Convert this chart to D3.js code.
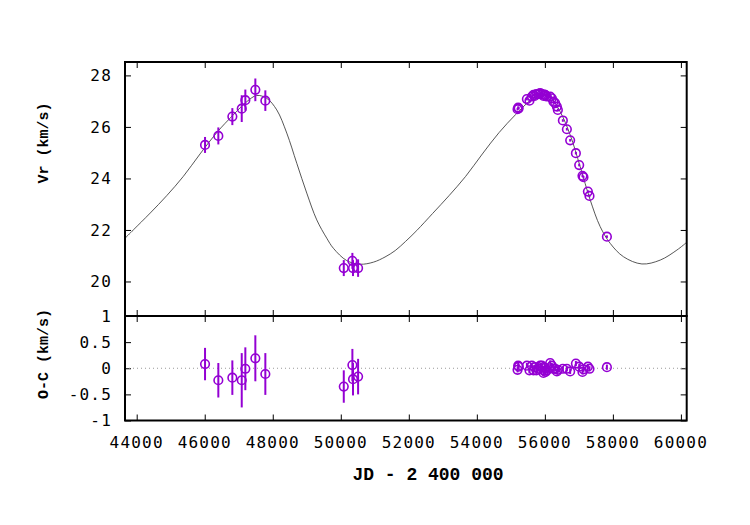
<!DOCTYPE html>
<html>
<head>
<meta charset="utf-8">
<script src="https://cdn.jsdelivr.net/npm/d3@7"></script>
<style>
  body { margin: 0; background: #fff; }
  .tick-label { font-family: "DejaVu Sans Mono", monospace; font-size: 16px; letter-spacing: 1.2px; fill: #000; }
  .axis-title { font-family: "Liberation Mono", "Courier New", monospace; font-weight: bold; fill: #000; }
</style>
</head>
<body>
<svg id="chart" width="750" height="525"></svg>
<script>
// observations: JD - 2400000, radial velocity, error, residual O-C
const jd    = [46009, 46400, 46812, 47088, 47194, 47488, 47782,
               50088, 50341, 50360, 50509,
               55197, 55215, 55230, 55471, 55547, 55618, 55665, 55700, 55750, 55812, 55862, 55912,
               55959, 55980, 56009, 56020, 56059, 56156, 56206, 56253, 56303, 56353, 56382,
               56529, 56647, 56744, 56912, 57009, 57106, 57135, 57265, 57312, 57824];
const vr    = [25.30, 25.65, 26.40, 26.71, 27.04, 27.44, 27.02,
               20.52, 20.80, 20.52, 20.52,
               26.69, 26.75, 26.72, 27.08, 27.02, 27.18, 27.24, 27.20, 27.27, 27.28, 27.31, 27.27,
               27.20, 27.25, 27.24, 27.22, 27.18, 27.18, 27.11, 26.98, 26.92, 26.79, 26.66,
               26.25, 25.91, 25.48, 24.98, 24.52, 24.10, 24.05, 23.49, 23.32, 21.74];
const vrErr = [0.31, 0.33, 0.33, 0.52, 0.41, 0.44, 0.40,
               0.31, 0.31, 0.31, 0.34,
               0.05, 0.05, 0.05, 0.05, 0.05, 0.05, 0.05, 0.05, 0.05, 0.05, 0.05, 0.05,
               0.05, 0.05, 0.05, 0.05, 0.05, 0.05, 0.05, 0.05, 0.05, 0.05, 0.05,
               0.05, 0.05, 0.05, 0.05, 0.05, 0.05, 0.05, 0.05, 0.05, 0.05];
const oc    = [0.08, -0.23, -0.18, -0.23, -0.01, 0.19, -0.11,
               -0.35, 0.06, -0.21, -0.16,
               -0.03, 0.05, 0.03, 0.05, -0.04, 0.05, -0.04, 0.02, -0.04, -0.01, 0.05, 0.05,
               -0.09, -0.05, 0.01, -0.07, -0.04, 0.10, 0.05, -0.01, -0.01, -0.06, -0.03,
               -0.01, -0.01, -0.06, 0.09, 0.03, -0.07, -0.02, 0.03, -0.01, 0.02];

// orbit model curve
const curveJd = [43656, 43900, 44400, 44882, 45371, 45862, 46353, 46841, 47235, 47529, 47824,
                 48118, 48412, 48706, 49000, 49294, 49588, 49782, 50176, 50568, 50959, 51300,
                 51600, 51900, 52235, 52700, 53182, 53671, 54162, 54653, 55141, 55568, 55862,
                 56156, 56450, 56744, 57038, 57332, 57626, 57921, 58312, 58853, 59391, 59882, 60170];
const curveVr = [21.68, 22.00, 22.66, 23.33, 24.08, 24.95, 25.78, 26.47, 26.98, 27.22, 27.11,
                 26.66, 25.76, 24.59, 23.43, 22.39, 21.68, 21.29, 20.81, 20.67, 20.75, 20.95,
                 21.20, 21.55, 21.98, 22.64, 23.33, 24.08, 24.95, 25.78, 26.48, 27.02, 27.24,
                 27.15, 26.59, 25.69, 24.46, 23.17, 22.13, 21.48, 20.96, 20.68, 20.83, 21.22, 21.52];

const xTicks  = [44000, 46000, 48000, 50000, 52000, 54000, 56000, 58000, 60000];
const vrTicks = [20, 22, 24, 26, 28];
const ocTicks = [-1, -0.5, 0, 0.5, 1];
const ocTickText = ['-1', '-0.5', '0', '0.5', '1'];

const purple = '#9400d3';
const left = 125, right = 686.7;
const top1 = 62, bot1 = 316, bot2 = 420.5;

const svg = d3.select('#chart');

const x  = d3.scaleLinear().domain([43656, 60170]).range([left, right]);
const y1 = d3.scaleLinear().domain([18.66, 28.52]).range([bot1, top1]);
const y2 = d3.scaleLinear().domain([-1, 1]).range([bot2, bot1]);

const obs = jd.map((d, i) => ({jd: d, vr: vr[i], err: vrErr[i], oc: oc[i]}));

function panel(y, yT, yFmt, yTop, yBot) {
  const g = svg.append('g');
  // inward ticks on all four sides
  g.append('g').attr('transform', `translate(0,${yBot})`)
    .call(d3.axisBottom(x).tickValues(xTicks).tickSize(-6).tickFormat(''));
  g.append('g').attr('transform', `translate(0,${yTop})`)
    .call(d3.axisTop(x).tickValues(xTicks).tickSize(-6).tickFormat(''));
  g.append('g').attr('transform', `translate(${left},0)`)
    .call(d3.axisLeft(y).tickValues(yT).tickSize(-6).tickFormat(''));
  g.append('g').attr('transform', `translate(${right},0)`)
    .call(d3.axisRight(y).tickValues(yT).tickSize(-6).tickFormat(''));
  g.selectAll('.domain').remove();
  g.selectAll('.tick line').attr('stroke', '#000').attr('stroke-width', 1);

  g.selectAll('text.ylab').data(yT).enter().append('text')
    .attr('class', 'tick-label')
    .attr('x', 112).attr('y', d => y(d)).attr('dy', '0.36em')
    .attr('text-anchor', 'end')
    .text((d, i) => yFmt(d, i));
  return g;
}

panel(y1, vrTicks, d => d, top1, bot1);
panel(y2, ocTicks, (d, i) => ocTickText[i], bot1, bot2);

// zero line in residual panel
svg.append('line')
  .attr('x1', left).attr('x2', right).attr('y1', y2(0)).attr('y2', y2(0))
  .attr('stroke', '#999').attr('stroke-width', 1).attr('stroke-dasharray', '1,3');

// model curve
svg.append('clipPath').attr('id', 'clip1')
  .append('rect').attr('x', left).attr('y', top1).attr('width', right - left).attr('height', bot1 - top1);
svg.append('path')
  .datum(curveJd.map((d, i) => [d, curveVr[i]]))
  .attr('clip-path', 'url(#clip1)')
  .attr('fill', 'none').attr('stroke', '#444').attr('stroke-width', 0.9)
  .attr('d', d3.line().x(d => x(d[0])).y(d => y1(d[1])).curve(d3.curveCatmullRom.alpha(0.5)));

function points(yScale, key) {
  const g = svg.append('g');
  g.selectAll('line').data(obs).enter().append('line')
    .attr('x1', d => x(d.jd)).attr('x2', d => x(d.jd))
    .attr('y1', d => yScale(d[key] - d.err)).attr('y2', d => yScale(d[key] + d.err))
    .attr('stroke', purple).attr('stroke-width', 2);
  g.selectAll('circle').data(obs).enter().append('circle')
    .attr('cx', d => x(d.jd)).attr('cy', d => yScale(d[key]))
    .attr('r', 4.3)
    .attr('fill', 'none').attr('stroke', purple).attr('stroke-width', 1.6);
}
points(y1, 'vr');
points(y2, 'oc');

// frames
svg.append('rect').attr('x', left).attr('y', top1).attr('width', right - left).attr('height', bot1 - top1)
  .attr('fill', 'none').attr('stroke', '#000').attr('stroke-width', 2);
svg.append('rect').attr('x', left).attr('y', bot1).attr('width', right - left).attr('height', bot2 - bot1)
  .attr('fill', 'none').attr('stroke', '#000').attr('stroke-width', 2);

// x tick labels
svg.selectAll('text.xlab').data(xTicks).enter().append('text')
  .attr('class', 'tick-label')
  .attr('x', d => x(d)).attr('y', 448)
  .attr('text-anchor', 'middle')
  .text(d => d);

// axis titles
svg.append('text').attr('class', 'axis-title')
  .attr('x', 428).attr('y', 480).attr('text-anchor', 'middle')
  .style('font-size', '18px')
  .text('JD - 2 400 000');
svg.append('text').attr('class', 'axis-title')
  .attr('text-anchor', 'middle').style('font-size', '15px')
  .attr('transform', 'translate(48,143)rotate(-90)')
  .text('Vr (km/s)');
svg.append('text').attr('class', 'axis-title')
  .attr('text-anchor', 'middle').style('font-size', '15px')
  .attr('transform', 'translate(48,354)rotate(-90)')
  .text('O-C (km/s)');
</script>
</body>
</html>
